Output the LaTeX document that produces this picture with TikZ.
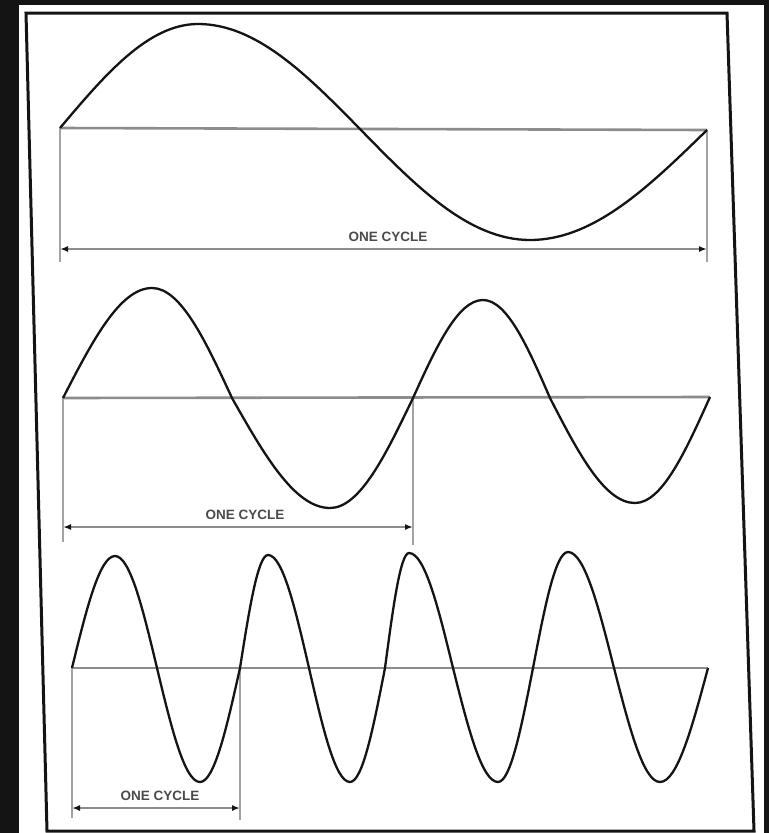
\documentclass[tikz,border=0pt]{standalone}
\usepackage{fontspec}
\setsansfont{Liberation Sans}
\usepackage{tikz}
\usetikzlibrary{arrows.meta, positioning}
\definecolor{scanblack}{RGB}{20, 20, 20}
\definecolor{axisgray}{RGB}{140, 140, 140}
\definecolor{labelgray}{RGB}{75, 75, 75}

\begin{document}
\begin{tikzpicture}[
    x=1pt, y=-1pt,
    every node/.style={font=\sffamily\bfseries\fontsize{13.5}{13.5}\selectfont},
    frame/.style={draw=scanblack, line width=3pt, line join=miter},
    baseline/.style={draw=axisgray, line width=2.6pt},
    tick/.style={draw=axisgray!80, line width=1.6pt},
    wave/.style={draw=scanblack, line width=2.3pt, line join=round},
    span/.style={draw=axisgray, line width=1.8pt, {Latex[scanblack, length=8pt, width=6pt]}-{Latex[scanblack, length=8pt, width=6pt]}},
    cyclelabel/.style={text=labelgray, inner sep=0pt}
]

\useasboundingbox (0,0) rectangle (769,833);
\fill[scanblack] (0,0) rectangle (769,833);
\fill[white] (19,5) -- (764,5) -- (764,833) -- (19,833) -- cycle;

% skewed border of the scanned page
\draw[frame] (26,13) -- (727,13) -- (754,831) -- (47,831) -- cycle;

% slow wave
\coordinate (slowstart) at (60,128);
\coordinate (slowend) at (707,130);
\draw[baseline] (slowstart) -- (slowend);
\coordinate (slowleft) at (60,262);
\coordinate (slowright) at (707,262);
\draw[tick] (slowstart) -- (slowleft);
\draw[tick] (slowend) -- (slowright);
\draw[wave] (slowstart) sin (198,24) cos (360,129) sin (530,240) cos (slowend);
\coordinate (slowa) at (60,249);
\coordinate (slowb) at (707,249);
\draw[span] (slowa) -- (slowb);
\node[cyclelabel] (slowlabel) at (388,237) {ONE CYCLE};

% medium wave
\coordinate (midstart) at (63,398);
\coordinate (midend) at (710,397);
\coordinate (midcross) at (413,398);
\draw[baseline] (midstart) -- (midend);
\coordinate (midleft) at (63,542);
\coordinate (midright) at (413,545);
\draw[tick] (midstart) -- (midleft);
\draw[tick] (midcross) -- (midright);
\draw[wave] (midstart) sin (152,288) cos (232,398) sin (330,508) cos (midcross)
    sin (483,300) cos (550,398) sin (635,503) cos (midend);
\coordinate (mida) at (63,527);
\coordinate (midb) at (413,527);
\draw[span] (mida) -- (midb);
\node[cyclelabel] (midlabel) at (245,515) {ONE CYCLE};

% fast wave
\coordinate (faststart) at (72,668);
\coordinate (fastend) at (708,668);
\coordinate (fastcross) at (240,668);
\draw[baseline] (faststart) -- (fastend);
\coordinate (fastleft) at (72,818);
\coordinate (fastright) at (240,820);
\draw[tick] (faststart) -- (fastleft);
\draw[tick] (fastcross) -- (fastright);
\draw[wave] (faststart) sin (115,556) cos (157,668) sin (200,782) cos (fastcross)
    sin (268,555) cos (309,668) sin (350,782) cos (385,668)
    sin (409,553) cos (453,668) sin (498,782) cos (533,668)
    sin (568,552) cos (614,668) sin (660,782) cos (fastend);
\coordinate (fasta) at (72,808);
\coordinate (fastb) at (240,808);
\draw[span] (fasta) -- (fastb);
\node[cyclelabel] (fastlabel) at (160,796) {ONE CYCLE};

\end{tikzpicture}
\end{document}
